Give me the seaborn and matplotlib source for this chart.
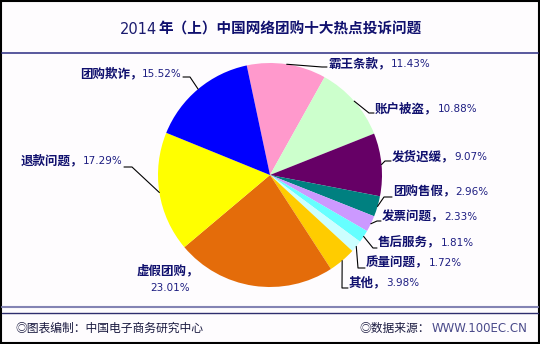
import matplotlib
matplotlib.use('Agg')
import numpy as np
import matplotlib.pyplot as plt
from matplotlib.patches import Rectangle
import seaborn as sns

sns.set_theme(style="white")
plt.rcParams['font.family'] = ['Noto Sans CJK SC', 'DejaVu Sans']

# 数据
categories = ['霸王条款', '账户被盗', '发货迟缓', '团购售假', '发票问题', '售后服务',
              '质量问题', '其他', '虚假团购', '退款问题', '团购欺诈']
shares = [11.43, 10.88, 9.07, 2.96, 2.33, 1.81, 1.72, 3.98, 23.01, 17.29, 15.52]
colors = ['#FF99CC', '#CCFFCC', '#660066', '#008080', '#CC99FF', '#66FFFF',
          '#CCFFFF', '#FFCC00', '#E46C0A', '#FFFF00', '#0000FF']
title_year = '2014'
title_rest = '年（上）中国网络团购十大热点投诉问题'
footer_left = '◎图表编制：中国电子商务研究中心'
footer_right_a = '◎数据来源：'
footer_right_b = 'WWW.100EC.CN'

# 标签位置 (像素坐标, y 向下): side, 文字x, 文字y, 折点x, 折点y
label_layout = {
    '霸王条款': ('right', 328, 64, 322, 67),
    '账户被盗': ('right', 375, 109, 369, 113),
    '发货迟缓': ('right', 392, 157, 385, 161),
    '团购售假': ('right', 393, 192, 384, 197),
    '发票问题': ('right', 382, 217, 377, 221),
    '售后服务': ('right', 378, 243, 373, 248),
    '质量问题': ('right', 366, 263, 358, 268),
    '其他': ('right', 349, 283, 342, 288),
    '虚假团购': ('below', 168, 271, None, None),
    '退款问题': ('left', 123, 161, 132, 167),
    '团购欺诈': ('left', 182, 74, 190, 77),
}

W, H = 540, 344
cx, cy, R = 270, 175, 112
name_color = '#10106E'
pct_color = '#1E1E82'

fig = plt.figure(figsize=(W / 100, H / 100), dpi=100)
fig.patch.set_facecolor('#FEFCFE')
ax = fig.add_axes([0, 0, 1, 1])

wedges, _ = ax.pie(shares, colors=colors, startangle=-102, counterclock=True,
                   center=(cx, cy), radius=R, frame=True,
                   wedgeprops=dict(linewidth=0))
ax.set_xlim(0, W)
ax.set_ylim(H, 0)
ax.axis('off')

# 边框与分隔线
ax.add_patch(Rectangle((1, 1), W - 2, H - 2, fill=False, edgecolor='black', lw=1.5))
ax.plot([2, W - 2], [53, 53], color='#3C3C8C', lw=1.2)
ax.plot([2, W - 2], [307, 307], color='#8484B4', lw=1.5)
ax.plot([2, W - 2], [313, 313], color='#2E2E6E', lw=1.0)

fig.canvas.draw()
renderer = fig.canvas.get_renderer()


def width_of(t):
    bb = t.get_window_extent(renderer)
    return bb.x1 - bb.x0


for w, cat, val in zip(wedges, categories, shares):
    side, tx, ty, ex, ey = label_layout[cat]
    name = cat + '，'
    pct = f'{val:.2f}%'
    if side == 'below':
        ax.text(tx, ty, name, ha='center', va='center', fontsize=9,
                fontweight='bold', color=name_color)
        ax.text(tx + 2, ty + 17, pct, ha='center', va='center', fontsize=7.5,
                family='DejaVu Sans', color=pct_color)
        continue
    mid = np.deg2rad((w.theta1 + w.theta2) / 2)
    px, py = cx + R * np.cos(mid), cy + R * np.sin(mid)
    if side == 'right':
        t1 = ax.text(tx, ty, name, ha='left', va='center', fontsize=9,
                     fontweight='bold', color=name_color)
        x2 = tx + width_of(t1)
        ax.text(x2, ty, pct, ha='left', va='center', fontsize=7.5,
                family='DejaVu Sans', color=pct_color)
        ax.plot([px, ex, tx - 1], [py, ey, ey], color='black', lw=0.8)
    else:
        t2 = ax.text(tx, ty, pct, ha='right', va='center', fontsize=7.5,
                     family='DejaVu Sans', color=pct_color)
        x1 = tx - width_of(t2)
        ax.text(x1, ty, name, ha='right', va='center', fontsize=9,
                fontweight='bold', color=name_color)
        ax.plot([px, ex, tx + 1], [py, ey, ey], color='black', lw=0.8)

# 标题
ty_ = ax.text(0, -100, title_year, fontsize=10.5, family='DejaVu Sans')
tr_ = ax.text(0, -100, title_rest, fontsize=10.5, fontweight='bold')
wy, wr = width_of(ty_), width_of(tr_)
ty_.remove()
tr_.remove()
x0 = W / 2 - (wy + wr) / 2
ax.text(x0, 29, title_year, fontsize=10.5, family='DejaVu Sans', color='#1A1A6E',
        ha='left', va='center')
ax.text(x0 + wy + 1, 29, title_rest, fontsize=10.5, fontweight='bold', color='#10106E',
        ha='left', va='center')

# 页脚
ax.text(15, 328, footer_left, fontsize=8.5, color='#1A1A40', ha='left', va='center')
fb = ax.text(527, 328, footer_right_b, fontsize=8.5, family='DejaVu Sans',
             color='#4A4A8A', ha='right', va='center')
ax.text(527 - width_of(fb) - 1, 328, footer_right_a, fontsize=8.5, color='#1A1A40',
        ha='right', va='center')

fig.savefig('out.png', dpi=100, facecolor=fig.get_facecolor())
